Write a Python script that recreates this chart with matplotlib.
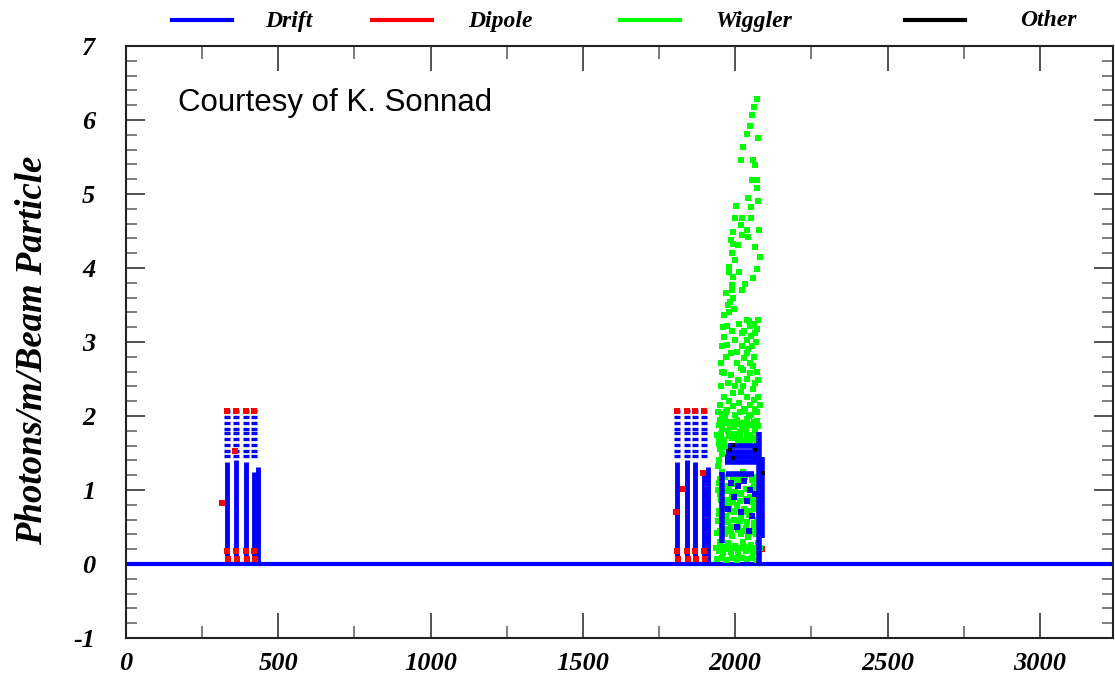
import numpy as np
import matplotlib
matplotlib.use("Agg")
import matplotlib.pyplot as plt
from matplotlib.lines import Line2D
from matplotlib.ticker import MultipleLocator

plt.rcParams['axes.unicode_minus'] = False

# dane
baseline_x = [0, 3240]
baseline_y = [0, 0]

# kolumny "drift" (dwie grupy)
col_x = [332, 361, 394, 420, 433, 1809, 1842, 1868, 1898, 1911]
col_top = [2.07, 2.07, 2.07, 2.07, 1.31, 2.07, 2.07, 2.07, 2.07, 1.31]
col_solid = [1.38, 1.40, 1.38, 1.25, 1.31, 1.38, 1.40, 1.38, 1.25, 1.31]
dot_levels = [2.07, 1.99, 1.91, 1.83, 1.77, 1.69, 1.61, 1.53, 1.46]

# drift w wigglerze
wig_col_x = [2078, 2088, 1958]
wig_col_y0 = [0.0, 0.35, 0.28]
wig_col_y1 = [1.78, 1.45, 1.25]
wig_band_y = [1.22, 1.38, 1.45, 1.52, 1.60]
wig_band_x0 = [1970, 1965, 1965, 1968, 1975]
wig_band_x1 = [2060, 2075, 2075, 2075, 2072]
drift_pts_x = [1985, 2010, 2030, 2050, 1995, 2040, 2065, 1975, 2020, 2055, 2005, 2045]
drift_pts_y = [1.10, 1.05, 1.12, 1.00, 0.90, 0.85, 0.95, 0.75, 0.70, 0.65, 0.50, 0.45]

# dipole
dip_x = [332, 361, 394, 420, 332, 361, 394, 420, 335, 364, 397, 423, 315, 358,
         1809, 1842, 1868, 1898, 1809, 1842, 1868, 1898, 1812, 1845, 1871, 1901,
         1806, 1829, 1894, 2088]
dip_y = [2.07, 2.07, 2.07, 2.07, 0.17, 0.17, 0.17, 0.17, 0.07, 0.07, 0.07, 0.07, 0.82, 1.53,
         2.07, 2.07, 2.07, 2.07, 0.17, 0.17, 0.17, 0.17, 0.07, 0.07, 0.07, 0.07,
         0.70, 1.01, 1.23, 0.20]

# wiggler
wig_x = [2073, 2063, 2056, 2049, 2038, 2075, 2024, 2020, 2059, 2065, 2054, 2073, 2073, 2043, 2076,
         2003, 2051, 2000, 2021, 2051, 2018, 1994, 2038, 2079, 2021, 2043, 1994, 2010, 2065,
         1988, 2081, 2000, 1980, 2070, 2011, 1994, 2059, 2032, 1988, 2021, 1970, 1994, 1983, 1997,
         1964, 2038, 2076, 2011, 1973, 2049, 2021, 2065, 1964, 2000, 2038, 1973, 2021, 2054, 2005,
         2038, 1954, 2005, 2059, 2027, 1964, 2049, 2010, 2076, 1954, 2027, 2059, 1994, 1964, 2038,
         2076, 2011, 1950, 2049, 1994, 2081,
         2045, 2060, 2070, 2052, 2030, 2068, 2043, 2062, 2030, 2048, 2018, 2070, 1985, 2040, 1975,
         2000, 2065, 2020, 1980, 2060, 2030, 1970, 2000, 2070, 2045,
         1985, 1978, 1990, 1975, 1960, 1980, 1958, 1990, 1968, 1958, 1985,
         1950, 1965, 1985, 2005, 2025, 2040, 2058, 2072,
         1955, 1975, 1995, 2015, 2035, 2050, 2065,
         1945, 1962, 1990, 2020, 2045, 2070,
         1950, 1968, 2030,
         1945, 2012, 2068,
         1955, 2025,
         1945, 1975, 2000, 2035, 2062,
         1950, 1990, 2015, 2048, 2072,
         1960, 1980, 2005, 2030, 2060,
         1945, 1970, 1995, 2020, 2045, 2070,
         1955, 1985, 2010, 2035, 2060,
         1940, 1965, 1990, 2018, 2042, 2068,
         1950, 1975, 2000, 2025, 2052, 2075,
         1945, 1960, 1985, 2010, 2035, 2058, 2078,
         1940, 1955, 1970, 1990, 2005, 2022, 2040, 2055, 2070,
         # dodatkowe punkty w gestym obszarze 0-2
         1942, 1958, 1972, 1998, 2016, 2032, 2052, 2066,
         1948, 1966, 1982, 2002, 2022, 2044, 2062, 2076,
         1940, 1953, 1978, 1996, 2014, 2038, 2056, 2074,
         1947, 1963, 1988, 2008, 2028, 2050, 2066,
         1943, 1958, 2080,
         1950, 1967, 1992, 2012, 2032, 2054, 2072,
         1944, 1960, 1978, 1998, 2018, 2040, 2058, 2076,
         1952, 1972, 1994, 2014, 2036, 2056, 2070,
         1946, 1962, 1982, 2006, 2026, 2048, 2066,
         1942, 1956, 1976, 1996, 2016, 2038, 2062, 2080,
         1950, 1966, 1986, 2008, 2030, 2050, 2070,
         1938, 1948, 1962, 1978, 1996, 2014, 2030, 2048, 2064, 2080]
wig_y = [6.28, 6.17, 6.07, 5.92, 5.81, 5.76, 5.63, 5.46, 5.46, 5.39, 5.19, 5.19, 5.08, 4.94, 4.91,
         4.84, 4.83, 4.67, 4.67, 4.67, 4.58, 4.49, 4.51, 4.51, 4.45, 4.42, 4.33, 4.31, 4.29,
         4.20, 4.15, 4.11, 4.02, 3.99, 3.95, 3.88, 3.86, 3.79, 3.77, 3.70, 3.66, 3.59, 3.54, 3.45,
         3.36, 3.30, 3.30, 3.25, 3.21, 3.21, 3.12, 3.12, 3.07, 3.03, 3.03, 2.96, 2.94, 2.94, 2.87,
         2.85, 2.71, 2.71, 2.67, 2.62, 2.58, 2.58, 2.49, 2.49, 2.40, 2.40, 2.37, 2.31, 2.26, 2.26,
         2.26, 2.17, 2.15, 2.15, 2.13, 2.15,
         3.28, 3.25, 3.18, 3.08, 3.15, 3.00, 2.90, 2.80, 2.78, 2.72, 2.65, 2.60, 2.55, 2.50, 2.45,
         2.40, 2.44, 2.33, 2.20, 2.22, 2.10, 2.05, 2.02, 2.05, 2.00,
         4.38, 3.95, 3.70, 3.50, 3.20, 3.40, 2.95, 3.15, 2.80, 2.60, 2.85,
         1.95, 1.98, 1.92, 1.95, 1.90, 1.96, 1.88, 1.93,
         1.82, 1.80, 1.85, 1.78, 1.82, 1.75, 1.80,
         1.70, 1.68, 1.70, 1.65, 1.62, 1.66,
         1.55, 1.58, 1.50,
         1.40, 1.42, 1.40,
         1.25, 1.25,
         1.10, 1.05, 1.08, 1.02, 1.10,
         0.95, 0.92, 0.95, 0.90, 0.95,
         0.82, 0.78, 0.80, 0.75, 0.80,
         0.68, 0.65, 0.70, 0.62, 0.66, 0.60,
         0.55, 0.50, 0.52, 0.48, 0.50,
         0.42, 0.40, 0.38, 0.40, 0.36, 0.40,
         0.30, 0.28, 0.25, 0.30, 0.26, 0.28,
         0.18, 0.15, 0.16, 0.14, 0.18, 0.15, 0.16,
         0.07, 0.08, 0.06, 0.08, 0.06, 0.08, 0.07, 0.08, 0.06,
         2.06, 2.03, 2.08, 2.01, 2.05, 2.07, 2.02, 2.09,
         1.88, 1.90, 1.86, 1.89, 1.86, 1.89, 1.92, 1.87,
         1.74, 1.76, 1.73, 1.76, 1.72, 1.74, 1.70, 1.73,
         1.62, 1.64, 1.60, 1.67, 1.66, 1.68, 1.58,
         1.32, 1.48, 1.20,
         1.15, 1.18, 1.16, 1.14, 1.17, 1.13, 1.18,
         1.00, 0.98, 0.99, 0.97, 0.96, 1.01, 1.03, 1.00,
         0.87, 0.86, 0.84, 0.85, 0.88, 0.84, 0.86,
         0.72, 0.74, 0.71, 0.73, 0.70, 0.72, 0.74,
         0.58, 0.61, 0.57, 0.60, 0.58, 0.57, 0.56, 0.62,
         0.45, 0.47, 0.44, 0.46, 0.44, 0.43, 0.46,
         0.22, 0.21, 0.23, 0.20, 0.22, 0.21, 0.23, 0.20, 0.22, 0.21]

# other
other_x = [1983, 1993, 1993, 2065, 2091]
other_y = [1.54, 1.61, 1.43, 1.54, 1.23]

legend_names = ['Drift', 'Dipole', 'Wiggler', 'Other']
legend_colors = ['#0000ff', '#ff0000', '#00ff00', '#000000']

serif = dict(family='Liberation Serif', weight='bold', style='italic')

fig = plt.figure(figsize=(11.15, 6.84), dpi=100)
ax = fig.add_axes([126 / 1115, 46 / 684, 987 / 1115, 592 / 684])

blue, red, green = legend_colors[0], legend_colors[1], legend_colors[2]

ax.plot(baseline_x, baseline_y, color=blue, lw=3, zorder=2)

# kolumny drift
ax.vlines(col_x, 0, col_solid, color=blue, lw=3.5, zorder=2)
for x, top in zip(col_x, col_top):
    lv = [v for v in dot_levels if v <= top]
    ax.plot([x] * len(lv), lv, ls='none', marker='_', ms=5, mew=2.4, color=blue, zorder=2)

ax.vlines(wig_col_x, wig_col_y0, wig_col_y1, color=blue, lw=4, zorder=4.5)
ax.hlines(wig_band_y, wig_band_x0, wig_band_x1, color=blue, lw=4, zorder=4.5)
ax.scatter(drift_pts_x, drift_pts_y, marker='s', s=14, color=blue, linewidths=0, zorder=4.5)

ax.scatter(dip_x, dip_y, marker='s', s=14, color=red, linewidths=0, zorder=3)
ax.scatter(wig_x, wig_y, marker='s', s=15, color=green, linewidths=0, zorder=4)
ax.scatter(other_x, other_y, marker='s', s=12, color='black', linewidths=0, zorder=5)

ax.set_xlim(0, 3240)
ax.set_ylim(-1, 7)
ax.xaxis.set_major_locator(MultipleLocator(500))
ax.xaxis.set_minor_locator(MultipleLocator(250))
ax.yaxis.set_major_locator(MultipleLocator(1))
ax.yaxis.set_minor_locator(MultipleLocator(0.2))

ax.tick_params(axis='x', which='major', direction='in', length=18, width=1.2,
               top=True, pad=10, labelsize=19, color='#333333')
ax.tick_params(axis='x', which='minor', direction='in', length=9, width=1.2,
               top=True, color='#666666')
ax.tick_params(axis='y', which='major', direction='in', length=14, width=1.2,
               right=True, pad=22, labelsize=19, color='#333333')
ax.tick_params(axis='y', which='minor', direction='in', length=8, width=1.2,
               right=True, color='#666666')
for lab in ax.get_xticklabels() + ax.get_yticklabels():
    lab.set_fontfamily(serif['family'])
    lab.set_fontweight('bold')
    lab.set_fontstyle('italic')
for sp in ax.spines.values():
    sp.set_linewidth(1.5)
    sp.set_color('#222222')

ax.set_ylabel('Photons/m/Beam Particle', fontsize=26.5, **serif)
ax.yaxis.set_label_coords(-0.077, 0.486)

ax.text(0.053, 0.904, 'Courtesy of K. Sonnad', transform=ax.transAxes,
        fontsize=22.5, family='Liberation Sans', va='center', ha='left')

# legenda nad wykresem
leg_line_x = [172, 372, 620, 905]
leg_text_x = [265, 468, 715, 1020]
for name, col, lx, tx in zip(legend_names, legend_colors, leg_line_x, leg_text_x):
    fig.add_artist(Line2D([lx / 1115, (lx + 60) / 1115], [1 - 20 / 684, 1 - 20 / 684],
                          color=col, lw=3))
    fig.text(tx / 1115, 1 - 21 / 684, name, fontsize=17, va='center', ha='left', **serif)

fig.savefig('out.png', dpi=100)
